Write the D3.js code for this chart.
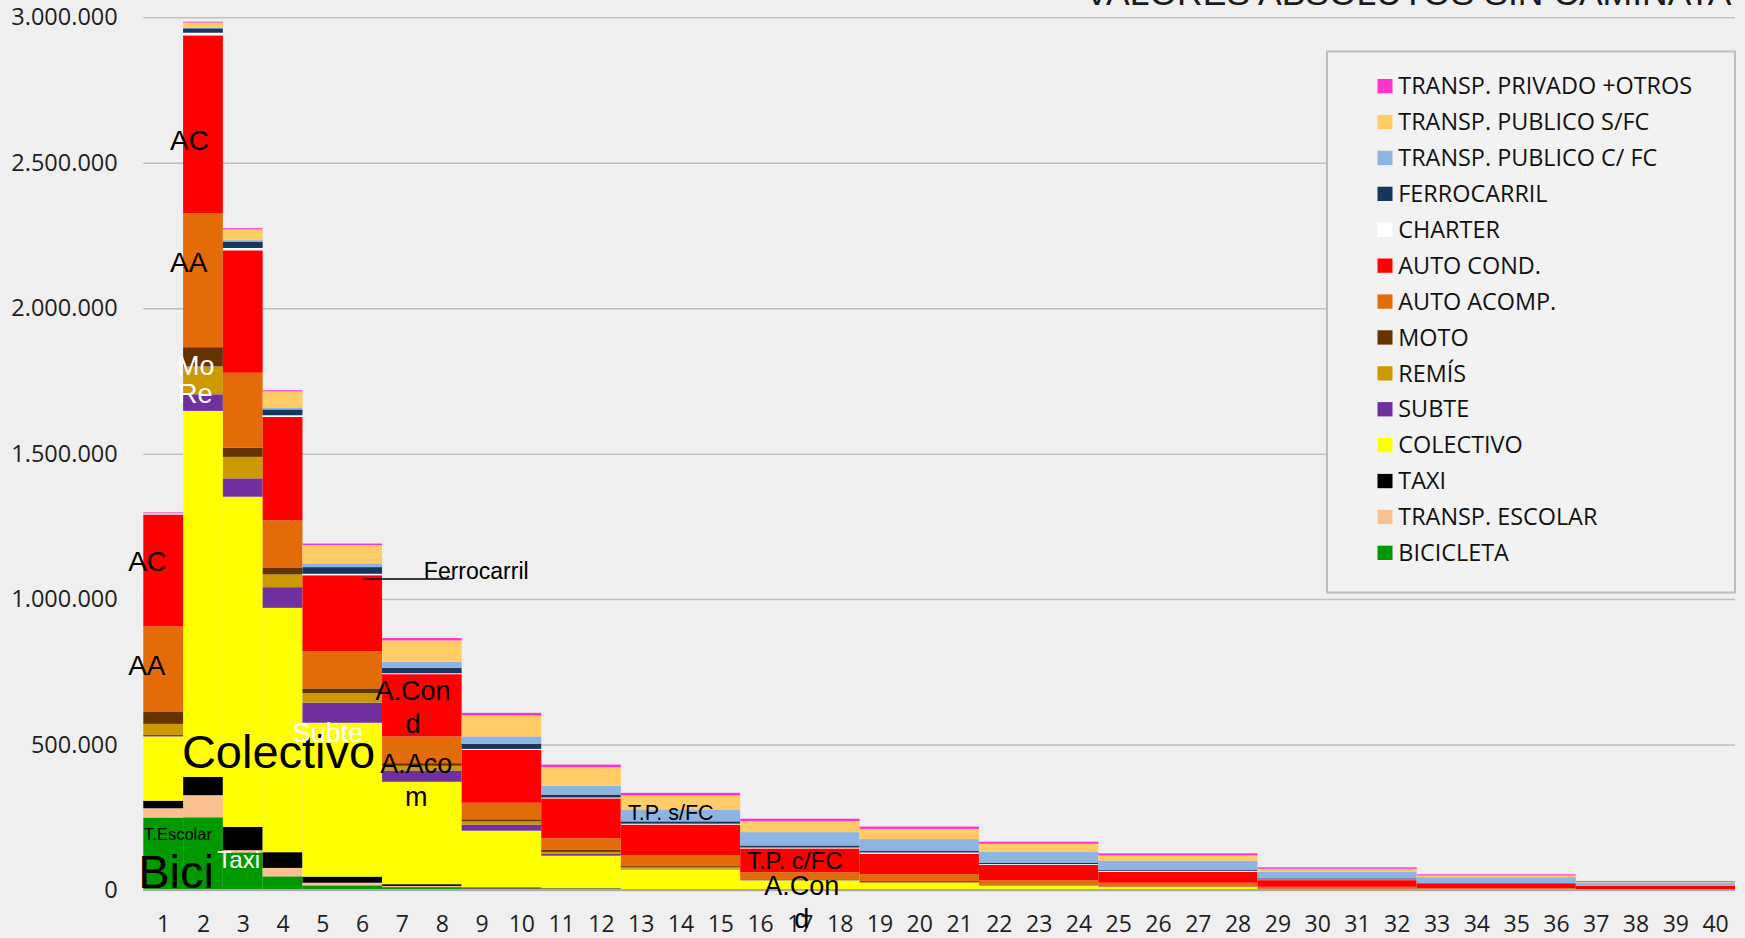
<!DOCTYPE html>
<html>
<head>
<meta charset="utf-8">
<script src="https://cdn.jsdelivr.net/npm/d3@7/dist/d3.min.js"></script>
<style>
  html, body { margin: 0; padding: 0; background: #efefef; }
  svg { display: block; }
</style>
</head>
<body>
<svg id="chart" width="1745" height="938"></svg>
<script>
// ---------------- DATA ----------------
const title = "VALORES ABSOLUTOS SIN CAMINATA";
const binFrom = [1, 2, 3, 4, 5, 7, 9, 11, 13, 16, 19, 22, 25, 29, 33, 37];
const binTo   = [1, 2, 3, 4, 6, 8, 10, 12, 15, 18, 21, 24, 28, 32, 36, 40];

const bicicleta   = [249000, 250000, 129000,  47000,  16000,  10000,   3000,   2000,   1000,  1000,  1000,  1000,  1000,     0,     0,     0];
const escolar     = [ 32000,  76000,   8000,  29000,   9000,   4000,   2000,   2000,   1000,  1000,  1000,  1000,  1000,     0,     0,     0];
const taxi        = [ 26000,  63000,  80000,  54000,  21000,   6000,   4000,   2000,   1000,     0,     0,     0,     0,     0,     0,     0];
const colectivo   = [221000,1258000,1135000, 840000, 529000, 352000, 195000, 112000,  68000, 31000, 22000, 12000,  8000,  2000,  1000,  1000];
const subte       = [  5000,  57000,  63000,  71000,  69000,  39000,  21000,   6000,   2000,  1000,  1000,  1000,     0,     0,     0,     0];
const remis       = [ 38000,  96000,  74000,  44000,  33000,  16000,  11000,   7000,   5000,  2000,  3000,  2000,  1000,  1000,     0,     0];
const moto        = [ 41000,  66000,  31000,  22000,  16000,   9000,   7000,   7000,   4000,  2000,  3000,  2000,  1000,  1000,  1000,     0];
const autoAcomp   = [294000, 461000, 258000, 164000, 128000,  92000,  57000,  40000,  38000, 23000, 23000, 15000, 13000,  7000,  4000,  2000];
const autoCond    = [384000, 611000, 421000, 355000, 261000, 214000, 182000, 137000, 105000, 82000, 71000, 52000, 38000, 23000, 15000, 11000];
const charter     = [  2000,   9000,   8000,   6000,   5000,   3000,   3000,   3000,   3000,  3000,  4000,  3000,  3000,  2000,  1000,  1000];
const ferrocarril = [  1000,  15000,  22000,  20000,  23000,  18000,  18000,  10000,   8000,  7000,  5000,  5000,  4000,  4000,  2000,  1000];
const tpConFC     = [  1000,   2000,   5000,   7000,  13000,  22000,  25000,  30000,  41000, 46000, 41000, 38000, 31000, 22000, 20000, 10000];
const tpSinFC     = [  3000,  18000,  37000,  55000,  63000,  73000,  72000,  64000,  48000, 38000, 35000, 27000, 18000, 11000,  6000,  2000];
const privado     = [  2000,   3000,   4000,   4000,   5000,   8000,   9000,   9000,   9000,  8000,  8000,  7000,  7000,  5000,  4000,  3000];

// series names, bottom to top of the stack
const seriesNames = ["BICICLETA", "TRANSP. ESCOLAR", "TAXI", "COLECTIVO", "SUBTE", "REMÍS", "MOTO",
  "AUTO ACOMP.", "AUTO COND.", "CHARTER", "FERROCARRIL", "TRANSP. PUBLICO C/ FC", "TRANSP. PUBLICO S/FC", "TRANSP. PRIVADO +OTROS"];
const seriesValues = [bicicleta, escolar, taxi, colectivo, subte, remis, moto,
  autoAcomp, autoCond, charter, ferrocarril, tpConFC, tpSinFC, privado];
const seriesColors = ["#009900", "#FAC090", "#000000", "#FFFF00", "#7030A0", "#CC9900", "#663300",
  "#E36C09", "#FF0000", "#FFFFFF", "#17365D", "#8EB4E3", "#FFCC66", "#FF33CC"];

const yTickValues = [0, 500000, 1000000, 1500000, 2000000, 2500000, 3000000];
const xTickLabels = ["1","2","3","4","5","6","7","8","9","10","11","12","13","14","15","16","17","18","19","20",
  "21","22","23","24","25","26","27","28","29","30","31","32","33","34","35","36","37","38","39","40"];

// ---------------- CHART ----------------
const svg = d3.select("#chart");
const W = 1745, H = 938;
const axisFont = "'Open Sans', sans-serif";
const noteFont = "'Liberation Sans', Arial, sans-serif";

svg.append("rect").attr("width", W).attr("height", H).attr("fill", "#efefef");

const x = d3.scaleLinear().domain([0, 40]).range([143.3, 1735]);
const y = d3.scaleLinear().domain([0, 3000000]).range([890, 17.3]);

const loc = d3.formatLocale({ decimal: ",", thousands: ".", grouping: [3], currency: ["", ""] });
const fmt = loc.format(",d");

// gridlines
const grid = svg.append("g").attr("transform", `translate(${x(0)},0)`)
  .call(d3.axisLeft(y).tickValues(yTickValues).tickSize(-(x(40) - x(0))).tickFormat(""));
grid.select(".domain").remove();
grid.selectAll(".tick line").attr("stroke", "#bfbfbf").attr("stroke-width", 1.5);

// title (cut off at the top like the original)
svg.append("text").attr("x", 1085).attr("y", 5)
  .attr("font-family", noteFont).attr("font-size", 35.5).attr("fill", "#1a1a1a")
  .text(title);

// stack
const keys = seriesNames;
const rows = binFrom.map((f, i) => {
  const r = { from: f, to: binTo[i] };
  keys.forEach((k, j) => { r[k] = seriesValues[j][i]; });
  return r;
});
const stacked = d3.stack().keys(keys)(rows);
const color = d3.scaleOrdinal().domain(keys).range(seriesColors);

svg.append("g").selectAll("g").data(stacked).join("g")
  .attr("fill", d => color(d.key))
  .selectAll("rect").data(d => d).join("rect")
  .attr("x", d => x(d.data.from - 1))
  .attr("width", d => x(d.data.to) - x(d.data.from - 1))
  .attr("y", d => y(d[1]))
  .attr("height", d => Math.max(0, y(d[0]) - y(d[1])));

// baseline
svg.append("line").attr("x1", x(0)).attr("x2", x(40)).attr("y1", y(0)).attr("y2", y(0))
  .attr("stroke", "#a9a9a9").attr("stroke-width", 2);

// y axis labels
const ya = svg.append("g").attr("transform", `translate(${x(0)},0)`)
  .call(d3.axisLeft(y).tickValues(yTickValues).tickSize(0).tickPadding(25.6).tickFormat(fmt));
ya.select(".domain").remove();
ya.selectAll("text").attr("font-family", axisFont).attr("font-size", 23.5).attr("fill", "#1e1e1e");

// x axis labels
const xa = svg.append("g").attr("transform", `translate(0,${y(0)})`)
  .call(d3.axisBottom(x).tickValues(xTickLabels.map((s, i) => i + 0.5)).tickSize(0).tickPadding(0)
    .tickFormat((d, i) => xTickLabels[i]));
xa.select(".domain").remove();
xa.selectAll("text").attr("font-family", axisFont).attr("font-size", 23).attr("fill", "#1e1e1e")
  .attr("dy", null).attr("y", 42);

// annotations (placed in axis units)
const notes = [
  { t: ["AC"], u: -0.38, v: 1096000, s: 28, c: "#000", a: "start" },
  { t: ["AA"], u: -0.38, v: 739000, s: 28, c: "#000", a: "start" },
  { t: ["AC"], u: 0.67, v: 2543000, s: 28, c: "#000", a: "start" },
  { t: ["AA"], u: 0.67, v: 2124000, s: 28, c: "#000", a: "start" },
  { t: ["Mo"], u: 0.85, v: 1770000, s: 27, c: "#fff", a: "start" },
  { t: ["Re"], u: 0.87, v: 1674000, s: 27, c: "#fff", a: "start" },
  { t: ["Colectivo"], u: 0.97, v: 419000, s: 47, c: "#000", a: "start" },
  { t: ["Subte"], u: 3.75, v: 510000, s: 27, c: "#fff", a: "start" },
  { t: ["T.Escolar"], u: 0.02, v: 172000, s: 16.5, c: "#000", a: "start" },
  { t: ["Bici"], u: -0.13, v: 7000, s: 47, c: "#000", a: "start" },
  { t: ["Taxi"], u: 1.86, v: 75600, s: 24, c: "#fff", a: "start" },
  { t: ["A.Con", "d"], u: 6.78, v: 653000, s: 27, c: "#000", a: "middle" },
  { t: ["A.Aco", "m"], u: 6.86, v: 401000, s: 27, c: "#000", a: "middle" },
  { t: ["Ferrocarril"], u: 7.05, v: 1069000, s: 23, c: "#000", a: "start" },
  { t: ["T.P. s/FC"], u: 12.18, v: 240500, s: 21.5, c: "#000", a: "start" },
  { t: ["T.P. c/FC"], u: 15.17, v: 71000, s: 24, c: "#000", a: "start" },
  { t: ["A.Con", "d"], u: 16.55, v: -17000, s: 27, c: "#000", a: "middle" }
];
const lineGap = 33;
notes.forEach(n => {
  const tx = svg.append("text").attr("font-family", noteFont).attr("font-size", n.s)
    .attr("fill", n.c).attr("text-anchor", n.a);
  n.t.forEach((line, i) => {
    tx.append("tspan").attr("x", x(n.u)).attr("y", y(n.v) + i * lineGap).text(line);
  });
});
// Ferrocarril leader line
svg.append("line").attr("x1", x(5.51)).attr("x2", x(7.78)).attr("y1", y(1069000)).attr("y2", y(1069000))
  .attr("stroke", "#000").attr("stroke-width", 1.5);

// legend
const lg = svg.append("g");
lg.append("rect").attr("x", 1327).attr("y", 51.5).attr("width", 408).attr("height", 541)
  .attr("fill", "#f2f2f2").attr("stroke", "#bdbdbd").attr("stroke-width", 2);
const legendKeys = keys.slice().reverse();
legendKeys.forEach((k, i) => {
  const cy = 86 + i * 35.9;
  lg.append("rect").attr("x", 1377.5).attr("y", cy - 7).attr("width", 15).attr("height", 14.3)
    .attr("fill", color(k));
  lg.append("text").attr("x", 1398.3).attr("y", cy + 8.3)
    .attr("font-family", axisFont).attr("font-size", 23.4).attr("fill", "#111").text(k);
});
</script>
</body>
</html>
